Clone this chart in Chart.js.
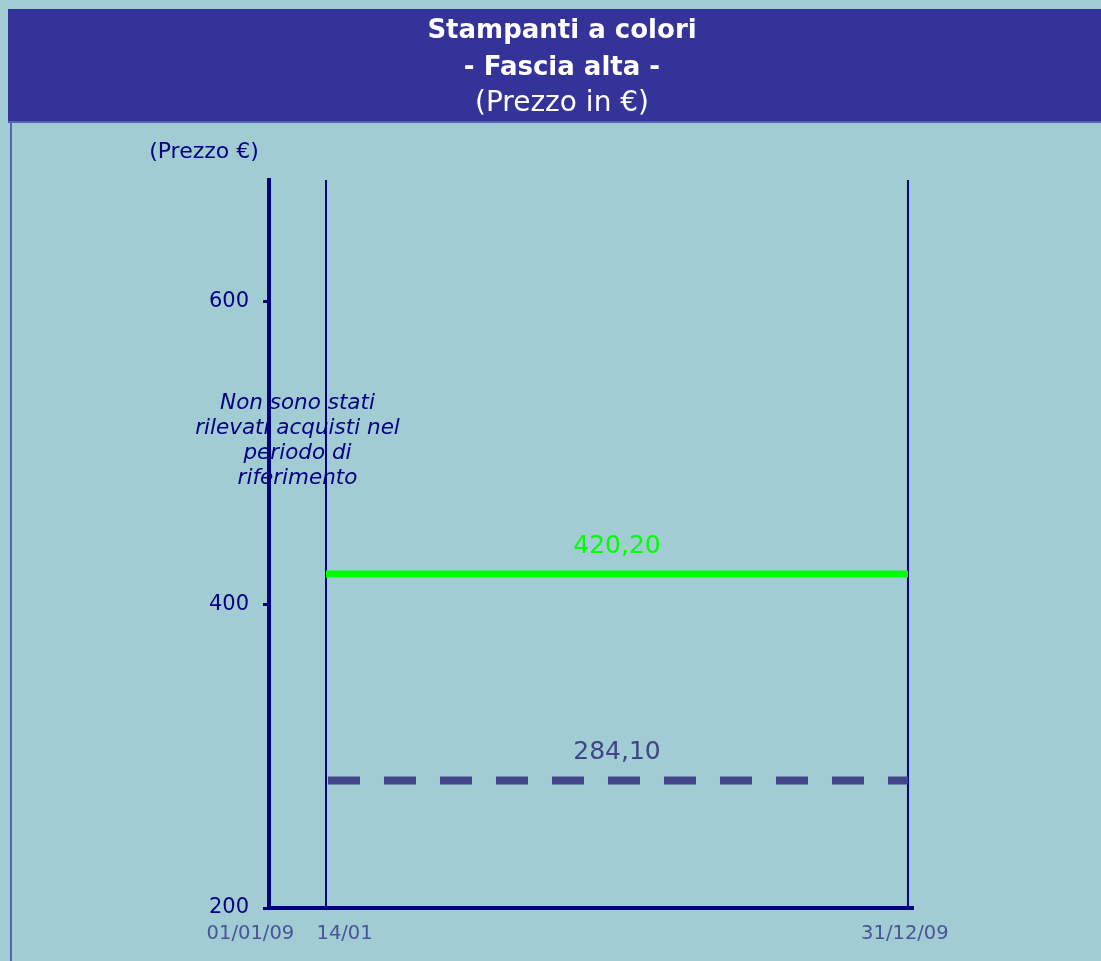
<!DOCTYPE html>
<html>
<head>
<meta charset="utf-8">
<style>
  html, body { margin: 0; padding: 0; background: #A2CCD3; }
  #wrap { width: 1101px; height: 961px; position: relative; }
</style>
<script src="https://cdn.jsdelivr.net/npm/chart.js@4/dist/chart.umd.min.js"></script>
</head>
<body>
<div id="wrap"><canvas id="c" width="1101" height="961"></canvas></div>
<script>
// ---- Data ----
const titleLines = ['Stampanti a colori', '- Fascia alta -', '(Prezzo in €)'];
const yAxisTitle = '(Prezzo €)';
const dateLabels = ['01/01/09', '14/01', '31/12/09'];
const dateDays = [0, 13, 364];            // day index of each date label
const periodStart = 13;                   // 14/01
const periodEnd = 364;                    // 31/12/09
const maxPrices = [420.20, 420.20];       // highest price over the period
const avgPrices = [284.10, 284.10];       // mean price over the period
const yTicks = [200, 400, 600];
const noDataNote = ['Non sono stati', 'rilevati acquisti nel', 'periodo di', 'riferimento'];

// ---- Piecewise time scale (the original axis is not proportional to days) ----
const knotValues = [0, 13, 364, 367];
const knotFractions = [0, 0.0885, 0.9922, 1];
class SegmentScale extends Chart.LinearScale {
  getPixelForValue(value) {
    const v = +value;
    let i = 0;
    while (i < knotValues.length - 2 && v > knotValues[i + 1]) i++;
    const t = (v - knotValues[i]) / (knotValues[i + 1] - knotValues[i]);
    const f = knotFractions[i] + t * (knotFractions[i + 1] - knotFractions[i]);
    return this.left + f * (this.right - this.left);
  }
  getValueForPixel(pixel) {
    const f = (pixel - this.left) / (this.right - this.left);
    let i = 0;
    while (i < knotFractions.length - 2 && f > knotFractions[i + 1]) i++;
    const t = (f - knotFractions[i]) / (knotFractions[i + 1] - knotFractions[i]);
    return knotValues[i] + t * (knotValues[i + 1] - knotValues[i]);
  }
}
SegmentScale.id = 'segment';
SegmentScale.defaults = Chart.LinearScale.defaults;
Chart.register(SegmentScale);

const NAVY = '#000080';
const FONT = '"DejaVu Sans", sans-serif';
const fmt = v => v.toFixed(2).replace('.', ',');
// label padding (in spaces) so the date labels sit as in the original layout
const labelPad = { 0: ['', '      '], 13: ['      ', ''], 364: ['', ' '] };

const decor = {
  id: 'decor',
  beforeDraw(chart) {
    const ctx = chart.ctx;
    ctx.save();
    ctx.fillStyle = '#A2CCD3';
    ctx.fillRect(0, 0, chart.width, chart.height);
    ctx.fillStyle = '#333399';
    ctx.fillRect(8, 9, chart.width - 8, 113);
    ctx.fillStyle = '#5A62B8';
    ctx.fillRect(8, 121, chart.width - 8, 2);
    ctx.fillRect(10, 121, 2, chart.height - 121);
    ctx.restore();
  },
  afterDatasetsDraw(chart) {
    const ctx = chart.ctx;
    const xs = chart.scales.x, ys = chart.scales.y;
    ctx.save();
    ctx.fillStyle = '#FFFFFF';
    ctx.textAlign = 'center';
    ctx.textBaseline = 'middle';
    ctx.font = 'bold 26px ' + FONT;
    ctx.fillText(titleLines[0], 562, 31);
    ctx.fillText(titleLines[1], 562, 68);
    ctx.font = '28px ' + FONT;
    ctx.fillText(titleLines[2], 562, 104);
    ctx.fillStyle = NAVY;
    ctx.font = '22px ' + FONT;
    ctx.fillText(yAxisTitle, 204, 152);
    const cx = (xs.getPixelForValue(periodStart) + xs.getPixelForValue(periodEnd)) / 2;
    ctx.font = '25px ' + FONT;
    ctx.fillStyle = '#00FF00';
    ctx.fillText(fmt(maxPrices[0]), cx, ys.getPixelForValue(maxPrices[0]) - 28);
    ctx.fillStyle = '#404488';
    ctx.fillText(fmt(avgPrices[0]), cx, ys.getPixelForValue(avgPrices[0]) - 28);
    const nx = (xs.getPixelForValue(dateDays[0]) + xs.getPixelForValue(periodStart)) / 2;
    ctx.fillStyle = NAVY;
    ctx.font = 'italic 21.5px ' + FONT;
    noDataNote.forEach((l, i) => ctx.fillText(l, nx, 403 + i * 25));
    ctx.restore();
  }
};

const lineCommon = { pointRadius: 0, pointHoverRadius: 0, fill: false, tension: 0 };

new Chart(document.getElementById('c'), {
  type: 'line',
  data: {
    datasets: [
      Object.assign({ data: [{x: periodStart, y: maxPrices[0]}, {x: periodEnd, y: maxPrices[1]}],
        borderColor: '#00FF00', borderWidth: 7, borderCapStyle: 'butt' }, lineCommon),
      Object.assign({ data: [{x: periodStart, y: avgPrices[0]}, {x: periodEnd, y: avgPrices[1]}],
        borderColor: '#404488', borderWidth: 8, borderDash: [32, 24], borderDashOffset: -2, borderCapStyle: 'butt' }, lineCommon),
      Object.assign({ data: [{x: periodStart, y: 200}, {x: periodStart, y: 680}],
        borderColor: NAVY, borderWidth: 2 }, lineCommon),
      Object.assign({ data: [{x: periodEnd, y: 200}, {x: periodEnd, y: 680}],
        borderColor: NAVY, borderWidth: 2 }, lineCommon)
    ]
  },
  options: {
    responsive: false,
    animation: false,
    events: [],
    layout: { padding: { top: 180, left: 0, right: 188, bottom: 0 } },
    plugins: { legend: { display: false }, tooltip: { enabled: false }, title: { display: false } },
    scales: {
      x: {
        type: 'segment',
        min: 0, max: 367,
        afterBuildTicks: s => { s.ticks = dateDays.map(v => ({ value: v })); },
        afterFit: s => { s.height = 53; },
        ticks: {
          autoSkip: false, maxRotation: 0, padding: 14,
          color: '#4A5399',
          font: { family: FONT, size: 19.5 },
          callback: (v) => {
            const p = labelPad[v] || ['', ''];
            return p[0] + dateLabels[dateDays.indexOf(v)] + p[1];
          }
        },
        grid: { display: true, drawOnChartArea: false, drawTicks: false, tickLength: 0 },
        border: { display: true, color: NAVY, width: 4 }
      },
      y: {
        min: 200, max: 680,
        afterBuildTicks: s => { s.ticks = yTicks.map(v => ({ value: v })); },
        afterFit: s => { s.width = 269; },
        ticks: {
          autoSkip: false, padding: 14, color: NAVY,
          font: { family: FONT, size: 21 }
        },
        grid: { display: true, drawOnChartArea: false, drawTicks: true, tickLength: 6, tickWidth: 3, color: NAVY },
        border: { display: true, color: NAVY, width: 4 }
      }
    }
  },
  plugins: [decor]
});
</script>
</body>
</html>
